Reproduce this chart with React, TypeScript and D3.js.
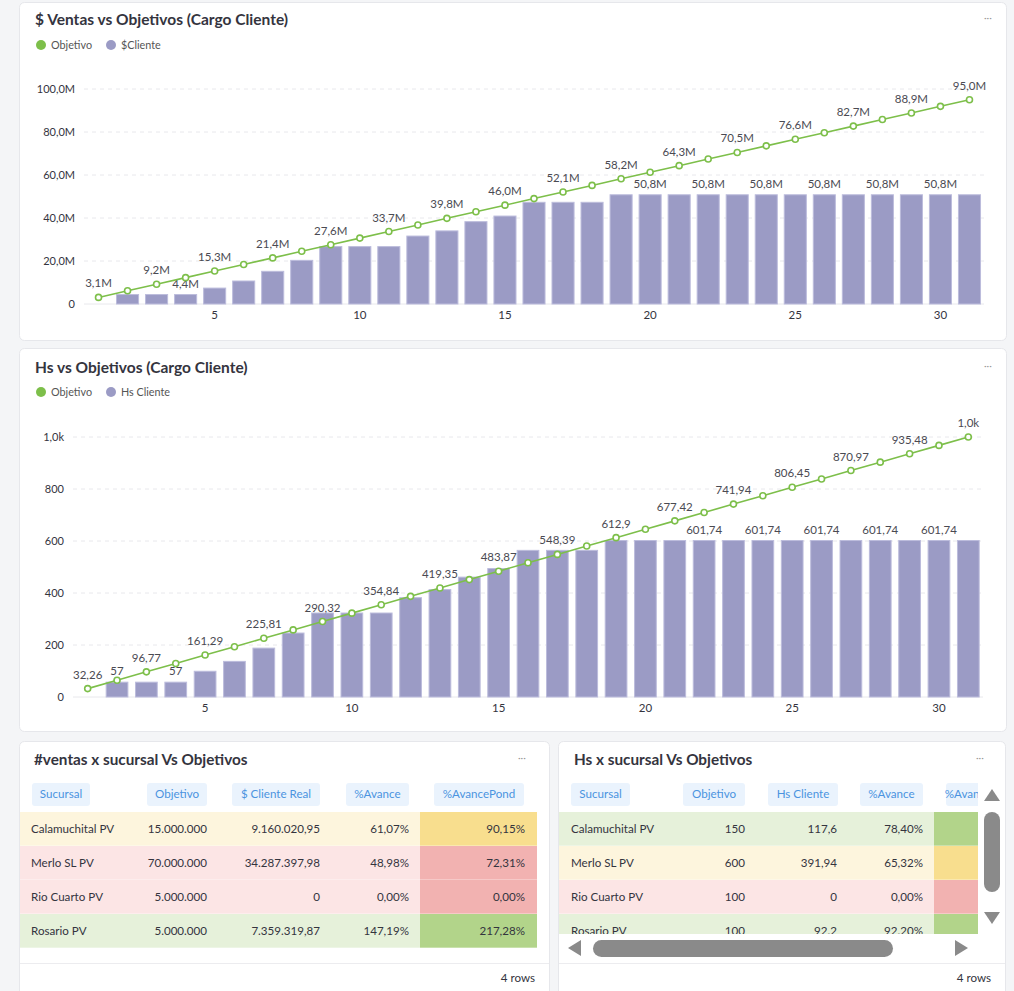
import React from 'react';
import * as d3 from 'd3';

// dias del mes
const days = [1, 2, 3, 4, 5, 6, 7, 8, 9, 10, 11, 12, 13, 14, 15, 16, 17, 18, 19, 20, 21, 22, 23, 24, 25, 26, 27, 28, 29, 30, 31];

// $ Ventas (millones)
const ventasObjetivo = [3.06, 6.13, 9.19, 12.26, 15.32, 18.39, 21.44, 24.52, 27.58, 30.65, 33.71, 36.77, 39.84, 42.9, 45.97, 49.03, 52.1, 55.16, 58.23, 61.29, 64.34, 67.42, 70.48, 73.55, 76.61, 79.68, 82.74, 85.81, 88.87, 91.94, 95.0];
const ventasCliente = [0, 4.4, 4.4, 4.4, 7.4, 10.7, 15.2, 20.3, 26.7, 26.7, 26.7, 31.6, 34.0, 38.3, 40.9, 47.3, 47.3, 47.3, 50.8, 50.8, 50.8, 50.8, 50.8, 50.8, 50.8, 50.8, 50.8, 50.8, 50.8, 50.8, 50.8];
const ventasTicks = [0, 20, 40, 60, 80, 100];
const ventasBarLabelDays = [4, 20, 22, 24, 26, 28, 30];

// Hs
const hsObjetivo = [32.26, 64.52, 96.77, 129.03, 161.29, 193.55, 225.81, 258.06, 290.32, 322.58, 354.84, 387.1, 419.35, 451.61, 483.87, 516.13, 548.39, 580.65, 612.9, 645.16, 677.42, 709.68, 741.94, 774.19, 806.45, 838.71, 870.97, 903.23, 935.48, 967.74, 1000];
const hsCliente = [0, 57, 57, 57, 99, 137, 188, 246, 323, 323, 323, 382, 413, 461, 494, 564, 564, 564, 601.74, 601.74, 601.74, 601.74, 601.74, 601.74, 601.74, 601.74, 601.74, 601.74, 601.74, 601.74, 601.74];
const hsTicks = [0, 200, 400, 600, 800, 1000];
const hsBarLabelDays = [2, 4, 22, 24, 26, 28, 30];

const lineLabelDays = [1, 3, 5, 7, 9, 11, 13, 15, 17, 19, 21, 23, 25, 27, 29, 31];

// tablas
const sucursales = ['Calamuchital PV', 'Merlo SL PV', 'Rio Cuarto PV', 'Rosario PV'];
const ventasObjSuc = [15000000, 70000000, 5000000, 5000000];
const ventasRealSuc = [9160020.95, 34287397.98, 0, 7359319.87];
const ventasAvance = [61.07, 48.98, 0, 147.19];
const ventasAvancePond = [90.15, 72.31, 0, 217.28];
const ventasEstado = ['warn', 'bad', 'bad', 'good'];

const hsObjSuc = [150, 600, 100, 100];
const hsRealSuc = [117.6, 391.94, 0, 92.2];
const hsAvance = [78.4, 65.32, 0, 92.2];
const hsEstado = ['good', 'warn', 'bad', 'good'];
const hsLocale = ['es', 'es', 'es', 'en'];

const es = d3.formatLocale({ decimal: ',', thousands: '.', grouping: [3], currency: ['$', ''] });

const fmtM = (v: number) => (v === 0 ? '0' : es.format('.1f')(v) + 'M');
const fmtHs = (v: number) => (v === 0 ? '0' : v >= 1000 ? es.format('.1f')(v / 1000) + 'k' : es.format('.2~f')(v));

const FONT = 'Lato, "Open Sans", sans-serif';
const GREEN = '#7dbf4a';
const PURPLE = '#9b9bc5';
const TEXT = '#34343e';
const TFS = 11.6;

const rowBg: any = { good: '#e6f1da', warn: '#fdf5dd', bad: '#fce5e5' };
const cellBg: any = { good: '#b2d48a', warn: '#f8de8e', bad: '#f2b2b1' };

function ComboChart(props: any) {
  const { panel, titleY, legendY, title, legendBar, obj, bars, yMax, ticks, fmt, barLabelDays, left, right, top, bottom, pad } = props;
  const x = d3.scaleBand<number>().domain(days).range([left, right]).paddingInner(pad).paddingOuter(pad / 2);
  const y = d3.scaleLinear().domain([0, yMax]).range([bottom, top]);
  const cx = (d: number) => (x(d) as number) + x.bandwidth() / 2;
  const line = d3.line<number>().x((_, i) => cx(days[i])).y((v) => y(v));

  return (
    <g>
      <rect x={panel[0] + 0.5} y={panel[1] + 0.5} width={panel[2]} height={panel[3]} rx={5} fill="#fff" stroke="#e6e7eb" />
      <text x={35} y={titleY} fontSize={15.5} fontWeight={700} fill={TEXT} fontFamily={FONT}>{title}</text>
      <text x={panel[0] + panel[2] - 22} y={titleY - 4} fontSize={10} fill="#999" fontFamily={FONT}>···</text>
      <circle cx={41} cy={legendY} r={5} fill={GREEN} />
      <text x={51} y={legendY + 3.5} fontSize={10.8} fill="#555" fontFamily={FONT}>Objetivo</text>
      <circle cx={111} cy={legendY} r={5} fill={PURPLE} />
      <text x={121} y={legendY + 3.5} fontSize={10.8} fill="#555" fontFamily={FONT}>{legendBar}</text>

      {ticks.map((t: number) => (
        <g key={t}>
          <line x1={left} x2={right} y1={y(t)} y2={y(t)} stroke="#e8e8ec" strokeDasharray={t === 0 ? undefined : '4,4'} />
          <text x={left - 9} y={y(t) + 4} textAnchor="end" fontSize={11} fill={TEXT} fontFamily={FONT}>{fmt(t)}</text>
        </g>
      ))}
      {[5, 10, 15, 20, 25, 30].map((d) => (
        <text key={d} x={cx(d)} y={bottom + 15} textAnchor="middle" fontSize={11.5} fill={TEXT} fontFamily={FONT}>{d}</text>
      ))}

      {bars.map((v: number, i: number) =>
        v > 0 ? (
          <rect key={i} x={x(days[i])} y={y(v)} width={x.bandwidth()} height={bottom - y(v)} fill={PURPLE} stroke="#bcbcdc" strokeWidth={1} />
        ) : null
      )}
      {barLabelDays.map((d: number) => (
        <text key={'b' + d} x={cx(d)} y={y(bars[d - 1]) - 7} textAnchor="middle" fontSize={11.5} fill="#4a4a52" fontFamily={FONT}>{fmt(bars[d - 1])}</text>
      ))}

      <path d={line(obj) as string} fill="none" stroke={GREEN} strokeWidth={1.6} />
      {obj.map((v: number, i: number) => (
        <circle key={i} cx={cx(days[i])} cy={y(v)} r={3} fill="#fff" stroke={GREEN} strokeWidth={1.6} />
      ))}
      {lineLabelDays.map((d: number) => (
        <text key={'l' + d} x={cx(d)} y={y(obj[d - 1]) - 10} textAnchor="middle" fontSize={11.5} fill="#4a4a52" fontFamily={FONT}>{fmt(obj[d - 1])}</text>
      ))}
    </g>
  );
}

function Chip({ x1, x2, label }: any) {
  return (
    <g>
      <rect x={x1} y={783} width={x2 - x1} height={23} rx={3} fill="#eaf3fd" />
      <text x={(x1 + x2) / 2} y={798} textAnchor="middle" fontSize={TFS} fill="#4b93e0" fontFamily={FONT}>{label}</text>
    </g>
  );
}

function VentasTable() {
  const rowY = (i: number) => 812 + i * 34;
  const f2 = es.format(',.2~f');
  const f0 = es.format(',.0f');
  const fp = es.format('.2f');
  return (
    <g>
      <rect x={19.5} y={741.5} width={530} height={270} rx={5} fill="#fff" stroke="#e6e7eb" />
      <text x={34} y={765} fontSize={15.3} fontWeight={700} fill={TEXT} fontFamily={FONT}>#ventas x sucursal Vs Objetivos</text>
      <text x={518} y={761} fontSize={10} fill="#999" fontFamily={FONT}>···</text>
      <Chip x1={32} x2={90} label="Sucursal" />
      <Chip x1={147} x2={207} label="Objetivo" />
      <Chip x1={232} x2={320} label="$ Cliente Real" />
      <Chip x1={346} x2={409} label="%Avance" />
      <Chip x1={434} x2={524} label="%AvancePond" />
      {sucursales.map((s, i) => (
        <g key={s} fontFamily={FONT} fontSize={TFS} fill={TEXT}>
          <rect x={20} y={rowY(i)} width={517} height={34} fill={rowBg[ventasEstado[i]]} />
          <rect x={420} y={rowY(i)} width={117} height={34} fill={cellBg[ventasEstado[i]]} />
          <line x1={20} x2={537} y1={rowY(i) + 34} y2={rowY(i) + 34} stroke="#fff" strokeOpacity={0.6} />
          <text x={31} y={rowY(i) + 21}>{s}</text>
          <text x={207} y={rowY(i) + 21} textAnchor="end">{f0(ventasObjSuc[i])}</text>
          <text x={320} y={rowY(i) + 21} textAnchor="end">{f2(ventasRealSuc[i])}</text>
          <text x={409} y={rowY(i) + 21} textAnchor="end">{fp(ventasAvance[i])}%</text>
          <text x={525} y={rowY(i) + 21} textAnchor="end">{fp(ventasAvancePond[i])}%</text>
        </g>
      ))}
      <line x1={20} x2={549} y1={963.5} y2={963.5} stroke="#ececef" />
      <text x={535} y={982} textAnchor="end" fontSize={TFS} fill={TEXT} fontFamily={FONT}>4 rows</text>
    </g>
  );
}

function HsTable() {
  const rowY = (i: number) => 812 + i * 34;
  return (
    <g>
      <rect x={558.5} y={741.5} width={447} height={270} rx={5} fill="#fff" stroke="#e6e7eb" />
      <text x={574} y={765} fontSize={15.3} fontWeight={700} fill={TEXT} fontFamily={FONT}>Hs x sucursal Vs Objetivos</text>
      <text x={976} y={761} fontSize={10} fill="#999" fontFamily={FONT}>···</text>
      <clipPath id="hsclip">
        <rect x={559} y={775} width={419} height={159} />
      </clipPath>
      <g clipPath="url(#hsclip)">
        <Chip x1={571} x2={630} label="Sucursal" />
        <Chip x1={683} x2={745} label="Objetivo" />
        <Chip x1={768} x2={838} label="Hs Cliente" />
        <Chip x1={860} x2={923} label="%Avance" />
        <Chip x1={946} x2={1016} label="%AvancePond" />
        {sucursales.map((s, i) => {
          const loc = hsLocale[i] === 'es' ? es : d3;
          return (
            <g key={s} fontFamily={FONT} fontSize={TFS} fill={TEXT}>
              <rect x={559} y={rowY(i)} width={420} height={34} fill={rowBg[hsEstado[i]]} />
              <rect x={934} y={rowY(i)} width={45} height={34} fill={cellBg[hsEstado[i]]} />
              <line x1={559} x2={979} y1={rowY(i) + 34} y2={rowY(i) + 34} stroke="#fff" strokeOpacity={0.6} />
              <text x={571} y={rowY(i) + 21}>{s}</text>
              <text x={745} y={rowY(i) + 21} textAnchor="end">{hsObjSuc[i]}</text>
              <text x={837} y={rowY(i) + 21} textAnchor="end">{loc.format('.2~f')(hsRealSuc[i])}</text>
              <text x={923} y={rowY(i) + 21} textAnchor="end">{loc.format('.2f')(hsAvance[i])}%</text>
            </g>
          );
        })}
      </g>
      {/* scrollbars */}
      <rect x={979} y={776} width={25} height={160} fill="#fff" />
      <path d="M984,801 L992,789 L1000,801 Z" fill="#8a8a8a" />
      <rect x={984} y={812} width={16} height={80} rx={8} fill="#8a8a8a" />
      <path d="M984,912 L992,924 L1000,912 Z" fill="#8a8a8a" />
      <path d="M581,940 L568,948 L581,956 Z" fill="#8a8a8a" />
      <rect x={593} y={940} width={300} height={17} rx={8.5} fill="#8a8a8a" />
      <path d="M955,940 L968,948 L955,956 Z" fill="#8a8a8a" />
      <line x1={559} x2={1005} y1={963.5} y2={963.5} stroke="#ececef" />
      <text x={991} y={982} textAnchor="end" fontSize={TFS} fill={TEXT} fontFamily={FONT}>4 rows</text>
    </g>
  );
}

export default function App() {
  return (
    <svg width={1014} height={991} style={{ position: 'absolute', left: 0, top: 0 }}>
      <rect x={0} y={0} width={1014} height={991} fill="#f4f5f7" />
      <ComboChart
        panel={[19, 2, 987, 338]}
        titleY={25}
        legendY={45}
        title="$ Ventas vs Objetivos (Cargo Cliente)"
        legendBar="$Cliente"
        obj={ventasObjetivo}
        bars={ventasCliente}
        yMax={100}
        ticks={ventasTicks}
        fmt={fmtM}
        barLabelDays={ventasBarLabelDays}
        left={84}
        right={984}
        top={89}
        bottom={304}
        pad={0.24}
      />
      <ComboChart
        panel={[19, 348, 987, 383]}
        titleY={373}
        legendY={392}
        title="Hs vs Objetivos (Cargo Cliente)"
        legendBar="Hs Cliente"
        obj={hsObjetivo}
        bars={hsCliente}
        yMax={1000}
        ticks={hsTicks}
        fmt={fmtHs}
        barLabelDays={hsBarLabelDays}
        left={73}
        right={983}
        top={437}
        bottom={697}
        pad={0.26}
      />
      <VentasTable />
      <HsTable />
    </svg>
  );
}
